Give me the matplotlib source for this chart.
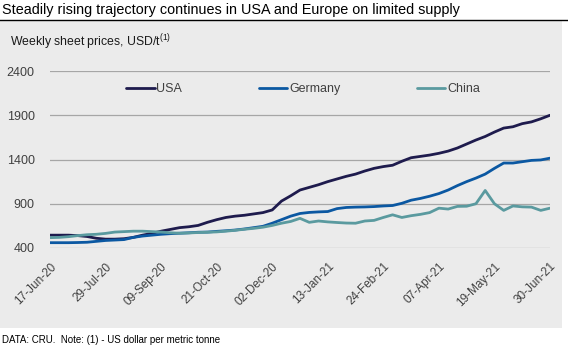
import datetime as dt
import matplotlib
matplotlib.use("Agg")
import matplotlib.pyplot as plt
from matplotlib.patches import Rectangle
from matplotlib.lines import Line2D

plt.rcParams['font.family'] = ['Liberation Sans', 'DejaVu Sans']

# Weekly sheet prices, USD/t (17-Jun-20 .. 30-Jun-21)
start = dt.date(2020, 6, 17)
usa = [545, 545, 545, 540, 530, 510, 500, 500, 505, 520, 545, 565, 590, 610, 630, 640,
       655, 690, 720, 745, 760, 770, 785, 800, 830, 930, 990, 1055, 1085, 1115, 1150,
       1180, 1210, 1235, 1270, 1300, 1320, 1335, 1380, 1420, 1435, 1450, 1470, 1495,
       1530, 1575, 1620, 1660, 1710, 1755, 1770, 1805, 1825, 1860, 1900]
germany = [460, 460, 460, 462, 465, 475, 485, 490, 495, 520, 535, 545, 555, 562, 567,
           572, 578, 580, 588, 595, 603, 615, 630, 645, 680, 720, 760, 790, 802, 808,
           812, 845, 858, 862, 864, 868, 875, 880, 905, 940, 960, 985, 1015, 1055, 1105,
           1150, 1190, 1235, 1300, 1360, 1360, 1375, 1390, 1395, 1415]
china = [517, 520, 528, 540, 550, 555, 565, 580, 585, 590, 590, 585, 580, 572, 567, 570,
         575, 578, 582, 590, 600, 612, 622, 635, 655, 680, 700, 735, 690, 705, 695, 688,
         682, 680, 705, 712, 745, 775, 745, 765, 780, 800, 850, 840, 870, 872, 900, 1050,
         900, 825, 875, 865, 862, 825, 850]
series_names = ["USA", "Germany", "China"]
series_colors = ["#1e1b4d", "#0b58a2", "#5a9a9f"]
y_ticks = [400, 900, 1400, 1900, 2400]
tick_every = 6

weeks = list(range(len(usa)))
dates = [start + dt.timedelta(weeks=w) for w in weeks]
tick_pos = weeks[::tick_every]
tick_labels = [dates[i].strftime("%d-%b-%y") for i in tick_pos]

W, H = 568, 347
fig = plt.figure(figsize=(W / 100, H / 100), dpi=100)
fig.patch.set_facecolor("white")

# grey panel behind the chart
fig.patches.append(Rectangle((0, 1 - 328 / H), 562 / W, (328 - 20) / H,
                             transform=fig.transFigure, facecolor="#ebebeb",
                             edgecolor="none", zorder=-10))
# rule under the headline
fig.lines.append(Line2D([0, 1], [1 - 19.5 / H] * 2, transform=fig.transFigure,
                        color="black", lw=1.0, zorder=-5))

fig.text(2 / W, 1 - 10 / H, "Steadily rising trajectory continues in USA and Europe on limited supply",
         fontsize=10.4, va="center", ha="left", color="black")
fig.text(10 / W, 1 - 42 / H, r"Weekly sheet prices, USD/t$^{\mathregular{(1)}}$",
         fontsize=8.8, va="center", ha="left", color="#1a1a1a")
fig.text(2 / W, 1 - 340 / H, "DATA: CRU.  Note: (1) - US dollar per metric tonne",
         fontsize=7, va="center", ha="left", color="black")

ax = fig.add_axes([50 / W, 1 - 248 / H, 500 / W, (248 - 71) / H])
ax.set_facecolor("none")
for vals, name, col in zip([usa, germany, china], series_names, series_colors):
    ax.plot(weeks, vals, color=col, lw=2.0, label=name, solid_capstyle="round", zorder=3)

ax.set_xlim(0, weeks[-1])
ax.set_ylim(y_ticks[0], y_ticks[-1])
ax.set_yticks(y_ticks)
ax.set_yticklabels([str(v) for v in y_ticks], fontsize=9, color="#404040")
ax.set_xticks(tick_pos)
ax.set_xticklabels(tick_labels, rotation=45, ha="right", rotation_mode="anchor",
                   fontsize=8.5, color="#404040")
ax.tick_params(axis="y", length=0, pad=11)
ax.tick_params(axis="x", length=0, pad=9)
ax.grid(axis="y", color="#a6a6a6", lw=0.9)
ax.set_axisbelow(True)
for s in ax.spines.values():
    s.set_visible(False)

leg = ax.legend(loc="upper center", bbox_to_anchor=(0.506, 0.995), ncol=3, frameon=False,
                fontsize=9, handlelength=2.3, handletextpad=0.15, columnspacing=6.1,
                labelcolor="#404040")

fig.savefig("out.png", dpi=100, facecolor="white")
